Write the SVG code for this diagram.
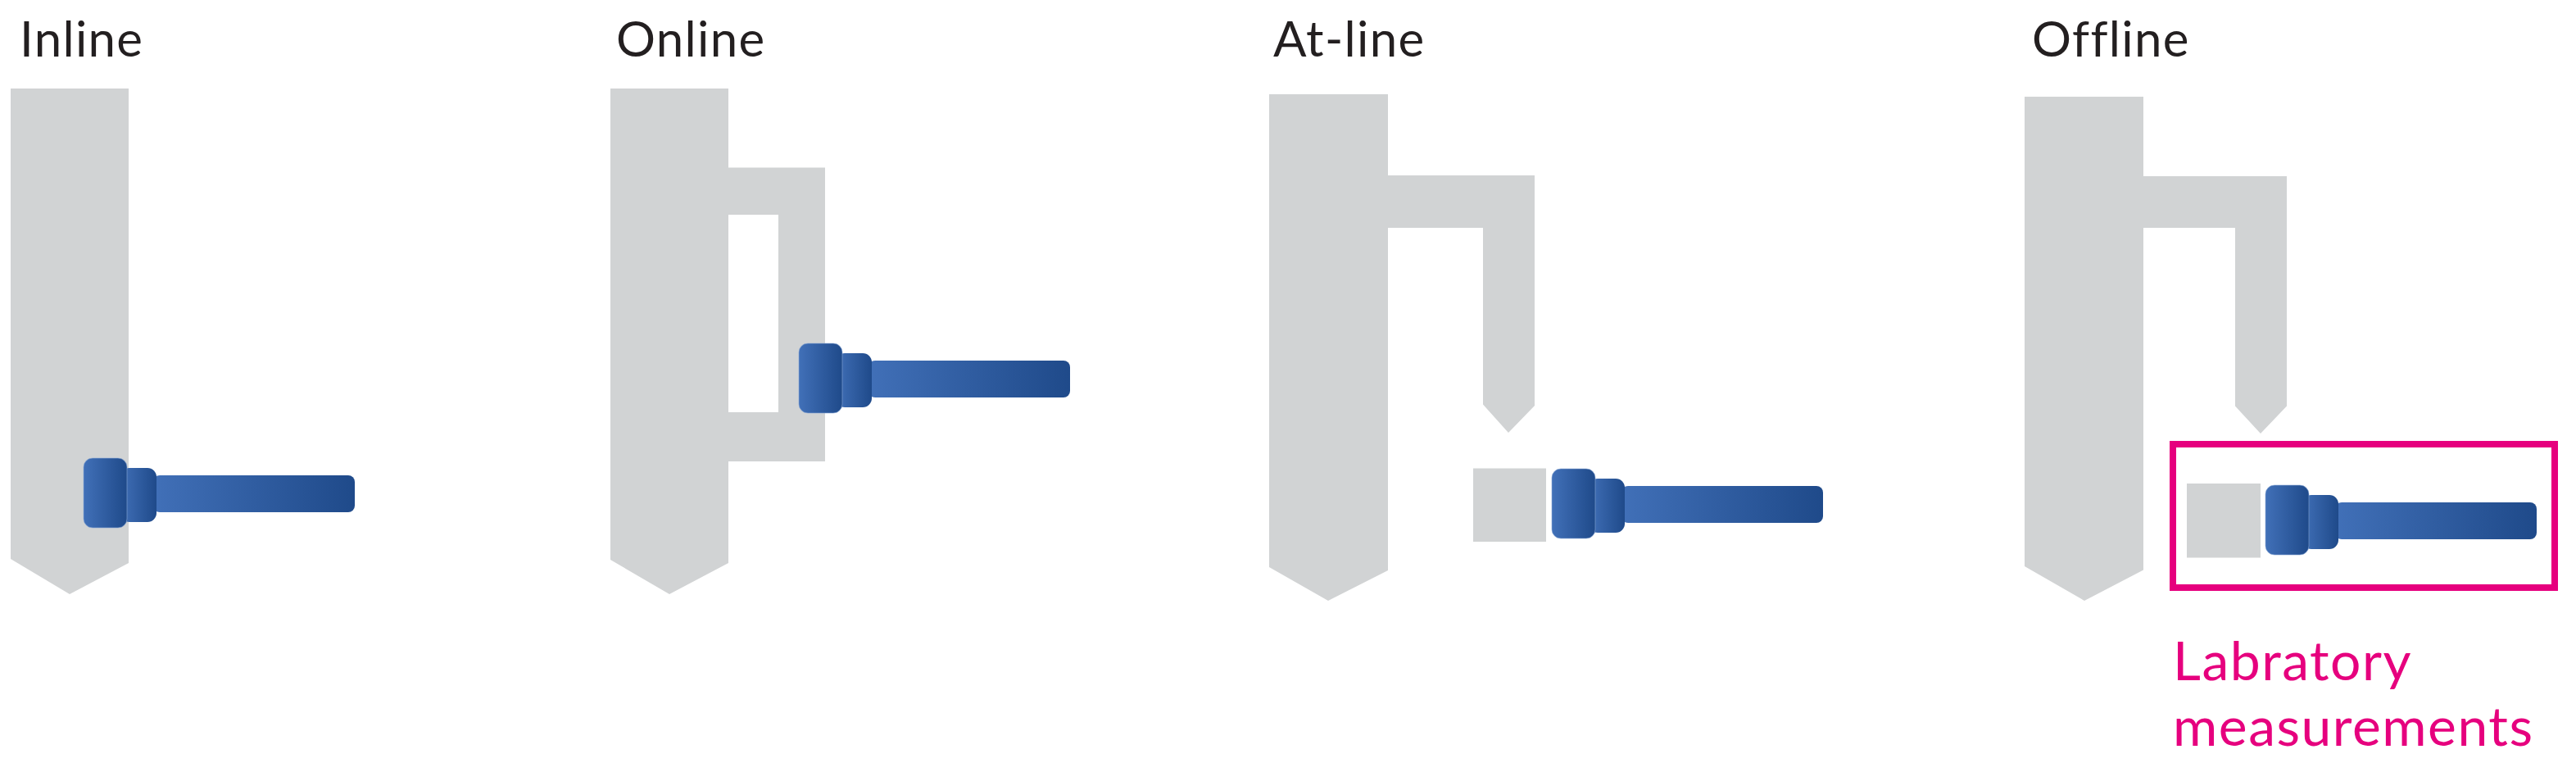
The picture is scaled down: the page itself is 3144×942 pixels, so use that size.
<svg xmlns="http://www.w3.org/2000/svg" xmlns:xlink="http://www.w3.org/1999/xlink" width="3144" height="942" viewBox="0 0 3144 942">
<style>
.v{fill:#d1d3d4}
.t{font-family:"Lato","Open Sans",sans-serif;font-size:60px;letter-spacing:1.3px;fill:#231f20}
.p{font-family:"Lato","Open Sans",sans-serif;font-size:66px;letter-spacing:1.5px;fill:#e6007e}
</style>
<defs>
<linearGradient id="g"><stop offset="0" stop-color="#4170b8"/><stop offset="1" stop-color="#1f4a8a"/></linearGradient>
<g id="probe">
<rect x="85" y="21" width="246" height="45" rx="8" fill="url(#g)"/>
<rect x="45" y="12" width="44" height="66" rx="11" fill="url(#g)"/>
<rect x="0" y="0" width="53" height="85" rx="11" fill="url(#g)" stroke="#8aa8d6" stroke-width="1" stroke-opacity=".6"/>
</g>
</defs>
<rect width="3144" height="942" fill="#fff"/>
<g id="inline">
<text class="t" x="24" y="69">Inline</text>
<path class="v" d="M13 108H157V687L85 725L13 682Z"/>
<use xlink:href="#probe" href="#probe" x="102" y="559"/>
</g>
<g id="online">
<text class="t" x="752" y="69">Online</text>
<path class="v" fill-rule="evenodd" d="M745 108H889V204.500H1007V563H889V687L817 725L745 683ZM889 262V503H950V262Z"/>
<use xlink:href="#probe" href="#probe" x="975" y="419"/>
</g>
<g id="at-line">
<text class="t" x="1554" y="69">At-line</text>
<path class="v" d="M1549 115H1694V214H1873V495L1841 528L1810 493.500V278H1694V696L1621 733L1549 692Z"/>
<rect class="v" x="1798" y="571.500" width="89" height="89.500"/>
<use xlink:href="#probe" href="#probe" x="1894" y="572"/>
</g>
<g id="offline">
<text class="t" x="2480" y="69">Offline</text>
<path class="v" d="M2471 118H2616V215H2791V495.500L2759 529L2728 495.500V278H2616V695.500L2544 733L2471 691Z"/>
<rect class="v" x="2669" y="590" width="90" height="90.500"/>
<use xlink:href="#probe" href="#probe" x="2765" y="592"/>
<rect x="2652" y="542" width="466" height="175" fill="none" stroke="#e6007e" stroke-width="8"/>
<text class="p" x="2652" y="830">Labratory</text>
<text class="p" x="2652" y="910">measurements</text>
</g>
<g id="connectors"/>
</svg>
